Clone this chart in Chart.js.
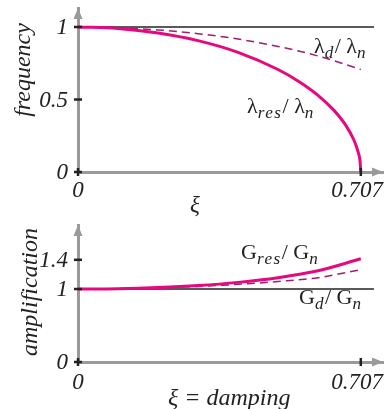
<!DOCTYPE html>
<html>
<head>
<meta charset="utf-8">
<script src="https://cdn.jsdelivr.net/npm/chart.js@4.4.1/dist/chart.umd.min.js"></script>
<style>
  html, body { margin: 0; padding: 0; background: #fff; }
  #page { position: relative; width: 384px; height: 409px; overflow: hidden; }
  canvas { position: absolute; left: 0; }
  .lbl { position: absolute; font-family: "Liberation Serif", serif; color: #222; white-space: nowrap; line-height: 1; }
  .it { font-style: italic; }
  .rot { transform: translate(-50%, -50%) rotate(-90deg); }
  sub { font-style: italic; font-size: 0.78em; vertical-align: -0.3em; letter-spacing: 1.5px; }
</style>
</head>
<body>
<div id="page">
  <canvas id="freqChart" width="384" height="200" style="top:0"></canvas>
  <canvas id="ampChart" width="384" height="209" style="top:200px"></canvas>

  <div class="lbl it rot" style="left:22px; top:70px; font-size:24px;">frequency</div>
  <div class="lbl it rot" style="left:29px; top:292px; font-size:24px;">amplification</div>
  <div class="lbl it" style="left:190px; top:193px; font-size:23px;">ξ</div>
  <div class="lbl it" style="left:168px; top:385px; font-size:24px;">ξ = damping</div>

  <div class="lbl" style="left:314px; top:35px; font-size:22px;">λ<sub>d</sub>/ λ<sub>n</sub></div>
  <div class="lbl" style="left:247px; top:95px; font-size:22px;">λ<sub>res</sub>/ λ<sub>n</sub></div>
  <div class="lbl" style="left:241px; top:241px; font-size:22px;">G<sub>res</sub>/ G<sub>n</sub></div>
  <div class="lbl" style="left:299px; top:286px; font-size:22px;">G<sub>d</sub>/ G<sub>n</sub></div>
</div>
<script>
// damping ratio values
const xiRes = [0, 0.1, 0.2, 0.3, 0.4, 0.5, 0.55, 0.6, 0.64, 0.67, 0.69, 0.7, 0.705, 0.707];
const freqRes = [1, 0.99, 0.959, 0.906, 0.825, 0.707, 0.628, 0.529, 0.425, 0.32, 0.219, 0.141, 0.077, 0];

const xiD = [0, 0.1, 0.2, 0.3, 0.4, 0.5, 0.6, 0.707];
const freqD = [1, 0.995, 0.98, 0.954, 0.917, 0.866, 0.8, 0.707];

const gainRes = [1, 1.005, 1.021, 1.048, 1.091, 1.155, 1.25, 1.414];
const gainD = [1, 1.004, 1.015, 1.035, 1.064, 1.103, 1.155, 1.265];

// reference line at 1
const refXi = [0, 0.74];
const refVal = [1, 1];

const xTicks = [0, 0.707];
const freqTicks = [0, 0.5, 1];
const ampTicks = [0, 1, 1.4];

const PINK = "#e6087f";
const PURPLE = "#9e1f6c";
const AXIS = "#9a9a9a";
const TICK = "#222";
const FONT = "italic 23px 'Liberation Serif', serif";

const toPoints = (xs, ys) => xs.map((x, i) => ({ x, y: ys[i] }));
const fmt = (v) => (v === 0 ? "0" : String(v));

const axesPlugin = {
  id: "axesDeco",
  afterDraw(chart) {
    const { ctx, chartArea, scales } = chart;
    const xs = scales.x;
    const ys = scales.y;
    const x0 = xs.getPixelForValue(0);
    const y0 = ys.getPixelForValue(0);
    ctx.save();
    // arrowheads
    ctx.fillStyle = AXIS;
    ctx.beginPath();
    ctx.moveTo(x0, chartArea.top);
    ctx.lineTo(x0 - 4.5, chartArea.top + 11);
    ctx.lineTo(x0 + 4.5, chartArea.top + 11);
    ctx.closePath();
    ctx.fill();
    ctx.beginPath();
    ctx.moveTo(chartArea.right, y0);
    ctx.lineTo(chartArea.right - 11, y0 - 4.5);
    ctx.lineTo(chartArea.right - 11, y0 + 4.5);
    ctx.closePath();
    ctx.fill();
    // tick marks + labels
    ctx.strokeStyle = TICK;
    ctx.lineWidth = 2.5;
    ctx.fillStyle = "#222";
    ctx.font = FONT;
    ctx.textBaseline = "middle";
    ctx.textAlign = "right";
    chart.options.yTickList.forEach((v) => {
      const py = ys.getPixelForValue(v);
      ctx.beginPath();
      ctx.moveTo(x0 - 4, py);
      ctx.lineTo(x0 + 4, py);
      ctx.stroke();
      ctx.fillText(fmt(v), x0 - 10, py + 1);
    });
    ctx.textBaseline = "top";
    xTicks.forEach((v, i) => {
      const px = xs.getPixelForValue(v);
      ctx.beginPath();
      ctx.moveTo(px, y0 - 4);
      ctx.lineTo(px, y0 + 4);
      ctx.stroke();
      ctx.textAlign = i === 0 ? "center" : "right";
      ctx.fillText(fmt(v), i === 0 ? px : chart.width - 1, y0 + chart.options.xLabelGap);
    });
    ctx.restore();
  },
};

const makeChart = (id, cfg) =>
  new Chart(document.getElementById(id), {
    type: "line",
    data: {
      datasets: [
        {
          data: toPoints(cfg.resX, cfg.res),
          borderColor: PINK,
          borderWidth: 3,
          cubicInterpolationMode: "monotone",
          pointRadius: 0,
          order: 0,
        },
        {
          data: toPoints(xiD, cfg.d),
          borderColor: PURPLE,
          borderWidth: 1.5,
          borderDash: [8, 5],
          cubicInterpolationMode: "monotone",
          pointRadius: 0,
          order: 1,
        },
        {
          data: toPoints(refXi, refVal),
          borderColor: "#222",
          borderWidth: 1.3,
          pointRadius: 0,
          order: 2,
        },
      ],
    },
    options: {
      responsive: false,
      animation: false,
      yTickList: cfg.yTicks,
      xLabelGap: cfg.xLabelGap,
      layout: { autoPadding: false, padding: { top: cfg.top, right: 1, left: 0, bottom: 0 } },
      plugins: { legend: { display: false }, tooltip: { enabled: false } },
      scales: {
        x: {
          type: "linear",
          min: 0,
          max: 0.7625,
          grid: { display: false },
          border: { display: true, color: AXIS, width: 3 },
          ticks: { display: false },
          afterFit: (scale) => { scale.height = cfg.xHeight; },
        },
        y: {
          type: "linear",
          min: 0,
          max: cfg.yMax,
          grid: { display: false },
          border: { display: true, color: AXIS, width: 3 },
          ticks: { display: false },
          afterFit: (scale) => { scale.width = 78; },
        },
      },
    },
    plugins: [axesPlugin],
  });

makeChart("freqChart", {
  resX: xiRes,
  res: freqRes,
  d: freqD,
  yTicks: freqTicks,
  yMax: 1.131,
  top: 8,
  xHeight: 28,
  xLabelGap: 7,
});

makeChart("ampChart", {
  resX: xiD,
  res: gainRes,
  d: gainD,
  yTicks: ampTicks,
  yMax: 1.877,
  top: 25,
  xHeight: 47,
  xLabelGap: 9,
});
</script>
</body>
</html>
